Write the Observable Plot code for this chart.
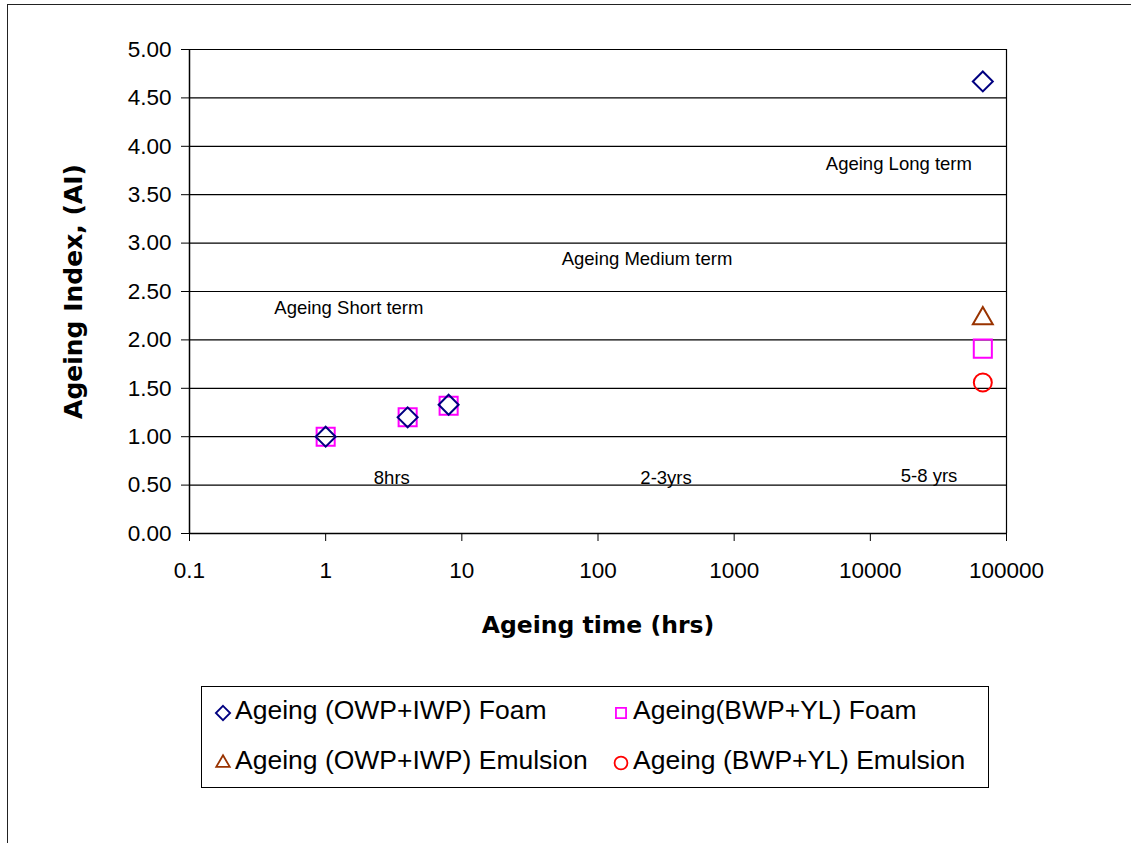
<!DOCTYPE html>
<html>
<head>
<meta charset="utf-8">
<script src="https://cdn.jsdelivr.net/npm/d3@7"></script>
<script src="https://cdn.jsdelivr.net/npm/@observablehq/plot@0.6"></script>
<style>
  html, body { margin: 0; padding: 0; background: #fff; }
  #page { position: relative; width: 1131px; height: 843px; overflow: hidden; font-family: "Liberation Sans", Arial, sans-serif; }
  #frame { position: absolute; left: 7px; top: 4px; width: 1200px; height: 900px; border-top: 1.5px solid #222; border-left: 1.5px solid #222; }
  #chart { position: absolute; left: 0; top: 0; }
  #legend { position: absolute; left: 201px; top: 686px; width: 788px; height: 102px; border: 1.5px solid #000; box-sizing: border-box; }
  .item { position: absolute; display: flex; align-items: center; font-size: 26.5px; color: #000; white-space: nowrap; }
  .item svg { margin-right: 3px; }
</style>
</head>
<body>
<div id="page">
  <div id="frame"></div>
  <div id="chart"></div>
  <div id="legend"></div>
</div>
<script>
// ---- data ----
const seriesNames = [
  "Ageing (OWP+IWP) Foam",
  "Ageing(BWP+YL) Foam",
  "Ageing (OWP+IWP) Emulsion",
  "Ageing (BWP+YL) Emulsion"
];
const owpFoamTime = [1, 4, 8, 67000];
const owpFoamAI = [1.00, 1.20, 1.33, 4.67];
const bwpFoamTime = [1, 4, 8, 67000];
const bwpFoamAI = [1.00, 1.20, 1.32, 1.91];
const owpEmulTime = [67000];
const owpEmulAI = [2.22];
const bwpEmulTime = [67000];
const bwpEmulAI = [1.56];

const xTicks = [0.1, 1, 10, 100, 1000, 10000, 100000];
const yTicks = [0, 0.5, 1, 1.5, 2, 2.5, 3, 3.5, 4, 4.5, 5];

const notes = ["Ageing Short term", "Ageing Medium term", "Ageing Long term", "8hrs", "2-3yrs", "5-8 yrs"];
const noteTime = [1.48, 229, 16200, 3.06, 316, 27000];
const noteAI = [2.33, 2.83, 3.82, 0.57, 0.57, 0.59];

// ---- styles ----
const colors = ["#000080", "#FF00FF", "#993300", "#FF0000"];
const symbols = ["diamond2", "square2", "triangle2", "circle"];
const radii = [9, 11.5, 9.5, 9];

const toRows = (xs, ys) => xs.map((x, i) => ({x, y: ys[i]}));
const sets = [
  toRows(owpFoamTime, owpFoamAI),
  toRows(bwpFoamTime, bwpFoamAI),
  toRows(owpEmulTime, owpEmulAI),
  toRows(bwpEmulTime, bwpEmulAI)
];
const noteRows = notes.map((t, i) => ({t, x: noteTime[i], y: noteAI[i]}));

const drawOrder = [1, 0, 2, 3];

const chart = Plot.plot({
  width: 1131,
  height: 660,
  marginLeft: 189,
  marginRight: 125,
  marginTop: 49,
  marginBottom: 127,
  style: {fontFamily: "'Liberation Sans', Arial, sans-serif", background: "transparent", overflow: "visible"},
  x: {type: "log", domain: [0.1, 100000]},
  y: {domain: [0, 5]},
  marks: [
    Plot.ruleY(yTicks.filter(d => d > 0), {stroke: "#000", strokeWidth: 1.2}),
    Plot.ruleX([100000], {stroke: "#000", strokeWidth: 1.2}),
    Plot.ruleX([0.1], {stroke: "#000", strokeWidth: 1.5}),
    Plot.ruleY([0], {stroke: "#000", strokeWidth: 1.5}),
    Plot.axisY({ticks: yTicks, tickSize: 8, tickPadding: 10, tickFormat: d3.format(".2f"), fontSize: 22.5, label: null, stroke: "#000", color: "#000"}),
    Plot.axisX({ticks: xTicks, tickSize: 8, tickPadding: 21, tickFormat: d => d < 1 ? "0.1" : d3.format("d")(d), fontSize: 22.5, label: null, stroke: "#000", color: "#000"}),
    Plot.text(noteRows, {x: "x", y: "y", text: "t", fontSize: 18.5, fill: "#000"}),
    ...drawOrder.map(i => Plot.dot(sets[i], {x: "x", y: "y", symbol: () => symbols[i], r: radii[i], stroke: colors[i], strokeWidth: 2, fill: "none"})),
    Plot.text(["Ageing time (hrs)"], {frameAnchor: "bottom", dy: 99, fontSize: 23.5, fontWeight: "bold", fontFamily: "'DejaVu Sans', Verdana, sans-serif", fill: "#000"}),
    Plot.text(["Ageing Index, (AI)"], {frameAnchor: "left", dx: -116, rotate: -90, textAnchor: "middle", fontSize: 25, fontWeight: "bold", fontFamily: "'DejaVu Sans', Verdana, sans-serif", fill: "#000"})
  ]
});
document.getElementById("chart").appendChild(chart);

// ---- legend ----
const legendPos = [[12, 8], [410, 8], [12, 58], [410, 58]];
const legend = d3.select("#legend");
const symMap = {diamond2: d3.symbolDiamond2, square2: d3.symbolSquare2, triangle2: d3.symbolTriangle2, circle: d3.symbolCircle};
seriesNames.forEach((name, i) => {
  const item = legend.append("div").attr("class", "item")
    .style("left", legendPos[i][0] + "px").style("top", legendPos[i][1] + "px");
  const svg = item.append("svg").attr("width", 18).attr("height", 26);
  svg.append("path")
    .attr("transform", "translate(9,15)")
    .attr("d", d3.symbol(symMap[symbols[i]], 130)())
    .attr("fill", "none").attr("stroke", colors[i]).attr("stroke-width", 1.8);
  item.append("span").text(name);
});
</script>
</body>
</html>
